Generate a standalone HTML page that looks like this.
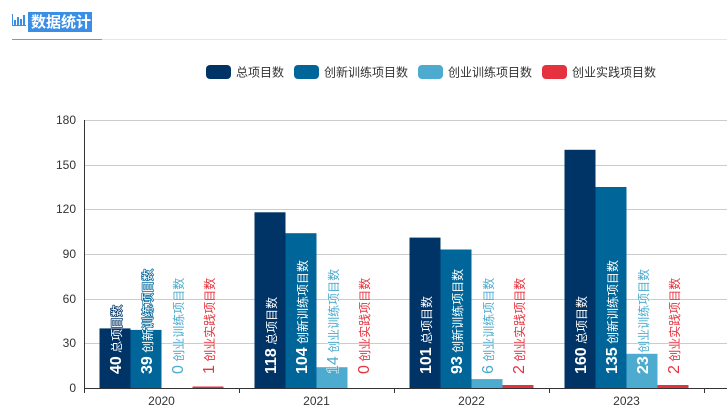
<!DOCTYPE html>
<html><head><meta charset="utf-8"><style>
html,body{margin:0;padding:0;background:#fff;width:727px;height:415px;overflow:hidden}
svg text{font-family:"Liberation Sans","Noto Sans CJK SC",sans-serif}
.lb{fill:#fff;stroke-width:1.5;paint-order:stroke fill;stroke-linejoin:round}
.ol text{stroke:#fff;stroke-width:1;paint-order:stroke fill}
</style></head><body>
<svg width="727" height="415" xmlns="http://www.w3.org/2000/svg">
<line x1="12" y1="39.5" x2="727" y2="39.5" stroke="#e6e6e6" stroke-width="1"/>
<line x1="12" y1="39.5" x2="102" y2="39.5" stroke="#d9843b" stroke-width="1"/>
<g fill="#3b8fe0">
<rect x="12" y="14" width="1" height="12"/><rect x="12" y="25" width="14" height="1"/>
<rect x="14" y="20" width="2" height="5"/><rect x="17" y="17" width="2" height="8"/><rect x="20" y="19" width="2" height="6"/><rect x="23" y="15" width="2" height="10"/>
</g>
<rect x="28" y="12" width="64" height="20" fill="#3a8ee6"/>
<text x="31" y="27" font-size="15" font-weight="bold" fill="#fff">数据统计</text>
<rect x="206" y="65" width="25" height="14" rx="4" fill="#003366"/>
<text x="236" y="76.5" font-size="12" fill="#333">总项目数</text>
<rect x="294" y="65" width="25" height="14" rx="4" fill="#006699"/>
<text x="324" y="76.5" font-size="12" fill="#333">创新训练项目数</text>
<rect x="418" y="65" width="25" height="14" rx="4" fill="#4cabce"/>
<text x="448" y="76.5" font-size="12" fill="#333">创业训练项目数</text>
<rect x="542" y="65" width="25" height="14" rx="4" fill="#e5323e"/>
<text x="572" y="76.5" font-size="12" fill="#333">创业实践项目数</text>
<g stroke="#ccc" stroke-width="1">
<line x1="84" y1="120.5" x2="727" y2="120.5"/>
<line x1="84" y1="165.5" x2="727" y2="165.5"/>
<line x1="84" y1="209.5" x2="727" y2="209.5"/>
<line x1="84" y1="254.5" x2="727" y2="254.5"/>
<line x1="84" y1="299.5" x2="727" y2="299.5"/>
<line x1="84" y1="343.5" x2="727" y2="343.5"/>
</g>
<g font-size="12" fill="#333" text-anchor="end">
<text x="76" y="124">180</text><text x="76" y="169">150</text><text x="76" y="213">120</text>
<text x="76" y="258">90</text><text x="76" y="303">60</text><text x="76" y="347">30</text><text x="76" y="392">0</text>
</g>
<g>
<rect x="99.5" y="328.4" width="31" height="59.6" fill="#003366"/>
<rect x="130.5" y="329.9" width="31" height="58.1" fill="#006699"/>
<rect x="192.5" y="386.5" width="31" height="1.5" fill="#e5323e"/>
<rect x="254.5" y="212.3" width="31" height="175.7" fill="#003366"/>
<rect x="285.5" y="233.2" width="31" height="154.8" fill="#006699"/>
<rect x="316.5" y="367.2" width="31" height="20.8" fill="#4cabce"/>
<rect x="409.5" y="237.6" width="31" height="150.4" fill="#003366"/>
<rect x="440.5" y="249.5" width="31" height="138.5" fill="#006699"/>
<rect x="471.5" y="379.1" width="31" height="8.9" fill="#4cabce"/>
<rect x="502.5" y="385" width="31" height="3" fill="#e5323e"/>
<rect x="564.5" y="149.8" width="31" height="238.2" fill="#003366"/>
<rect x="595.5" y="187" width="31" height="201" fill="#006699"/>
<rect x="626.5" y="353.8" width="31" height="34.2" fill="#4cabce"/>
<rect x="657.5" y="385" width="31" height="3" fill="#e5323e"/>
</g>
<line x1="84.5" y1="120" x2="84.5" y2="388" stroke="#333"/>
<line x1="84" y1="388.5" x2="727" y2="388.5" stroke="#333"/>
<g stroke="#333">
<line x1="84.5" y1="388" x2="84.5" y2="393"/><line x1="239.5" y1="388" x2="239.5" y2="393"/>
<line x1="394.5" y1="388" x2="394.5" y2="393"/><line x1="549.5" y1="388" x2="549.5" y2="393"/>
<line x1="704.5" y1="388" x2="704.5" y2="393"/>
</g>
<g font-size="12" fill="#333" text-anchor="middle">
<text x="161.5" y="405">2020</text><text x="316.5" y="405">2021</text>
<text x="471.5" y="405">2022</text><text x="626.5" y="405">2023</text>
</g>
<g class="lb">
<text transform="translate(121,374) rotate(-90)" stroke="#003366"><tspan font-size="16" font-weight="bold">40</tspan><tspan font-size="12"> 总项目数</tspan></text>
<text transform="translate(152,374) rotate(-90)" stroke="#006699"><tspan font-size="16" font-weight="bold">39</tspan><tspan font-size="12"> 创新训练项目数</tspan></text>
<text transform="translate(276,374) rotate(-90)" stroke="#003366"><tspan font-size="16" font-weight="bold">118</tspan><tspan font-size="12"> 总项目数</tspan></text>
<text transform="translate(307,374) rotate(-90)" stroke="#006699"><tspan font-size="16" font-weight="bold">104</tspan><tspan font-size="12"> 创新训练项目数</tspan></text>
<text transform="translate(431,374) rotate(-90)" stroke="#003366"><tspan font-size="16" font-weight="bold">101</tspan><tspan font-size="12"> 总项目数</tspan></text>
<text transform="translate(462,374) rotate(-90)" stroke="#006699"><tspan font-size="16" font-weight="bold">93</tspan><tspan font-size="12"> 创新训练项目数</tspan></text>
<text transform="translate(586,374) rotate(-90)" stroke="#003366"><tspan font-size="16" font-weight="bold">160</tspan><tspan font-size="12"> 总项目数</tspan></text>
<text transform="translate(617,374) rotate(-90)" stroke="#006699"><tspan font-size="16" font-weight="bold">135</tspan><tspan font-size="12"> 创新训练项目数</tspan></text>
<text transform="translate(648,374) rotate(-90)" stroke="#4cabce"><tspan font-size="16" font-weight="bold">23</tspan><tspan font-size="12" fill="#4cabce" stroke="#fff" stroke-width="0.5"> 创业训练项目数</tspan></text>
</g>
<g class="ol">
<text transform="translate(183,374) rotate(-90)" fill="#4cabce"><tspan font-size="16">0</tspan><tspan font-size="12"> 创业训练项目数</tspan></text>
<text transform="translate(214,374) rotate(-90)" fill="#e5323e"><tspan font-size="16">1</tspan><tspan font-size="12"> 创业实践项目数</tspan></text>
<text transform="translate(338,374) rotate(-90)" fill="#4cabce"><tspan font-size="16">14</tspan><tspan font-size="12"> 创业训练项目数</tspan></text>
<text transform="translate(369,374) rotate(-90)" fill="#e5323e"><tspan font-size="16">0</tspan><tspan font-size="12"> 创业实践项目数</tspan></text>
<text transform="translate(493,374) rotate(-90)" fill="#4cabce"><tspan font-size="16">6</tspan><tspan font-size="12"> 创业训练项目数</tspan></text>
<text transform="translate(524,374) rotate(-90)" fill="#e5323e"><tspan font-size="16">2</tspan><tspan font-size="12"> 创业实践项目数</tspan></text>
<text transform="translate(679,374) rotate(-90)" fill="#e5323e"><tspan font-size="16">2</tspan><tspan font-size="12"> 创业实践项目数</tspan></text>
</g>
</svg>
</body></html>
